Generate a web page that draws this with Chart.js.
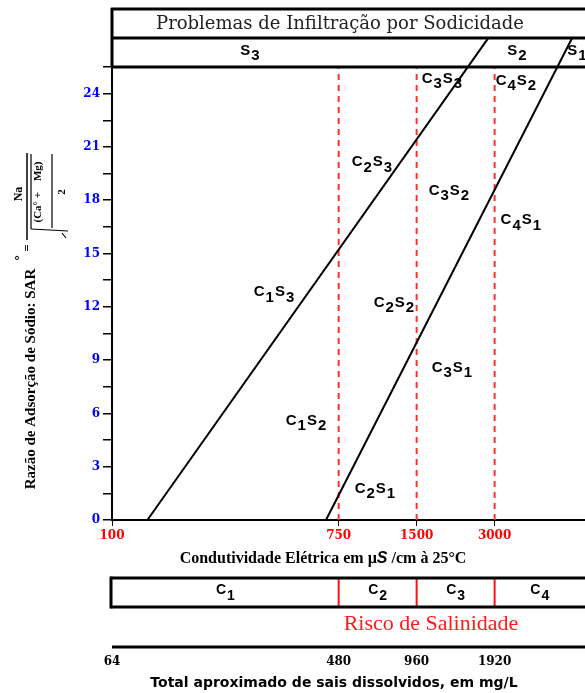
<!DOCTYPE html>
<html>
<head>
<meta charset="utf-8">
<script src="https://cdn.jsdelivr.net/npm/chart.js@4"></script>
<style>
  html, body { margin: 0; padding: 0; background: #fff; }
</style>
</head>
<body>
<canvas id="sarChart" width="585" height="693"></canvas>
<script>
// EC axis (µS/cm at 25°C) and matching TDS labels (mg/L)
const ecTicks = [100, 750, 1500, 3000];
const tdsTicks = ['64', '480', '960', '1920'];
const ecRange = [100, 6700];
const sarRange = [0, 25.5];
const sarStep = 1.5;

// boundary lines between sodicity classes (EC, SAR)
const lineS3S2 = [{ x: 137, y: 0 }, { x: 2826, y: 27.1 }];
const lineS2S1 = [{ x: 670, y: 0 }, { x: 5963, y: 27.1 }];

// salinity class limits
const classLimits = [750, 1500, 3000];
const salinityClasses = ['C1', 'C2', 'C3', 'C4'];

// sodicity band labels
const sodicityClasses = ['S3', 'S2', 'S1'];
const sodicityEC = [341, 3656, 6233];

// zone labels inside the plot
const zoneNames = ['C1S3', 'C2S3', 'C3S3', 'C4S2', 'C1S2', 'C2S2', 'C3S2', 'C4S1', 'C2S1', 'C3S1'];
const zoneEC = [422, 1008, 1878, 3625, 561, 1226, 1998, 3789, 1035, 2052];
const zoneSAR = [12.7, 20.0, 24.7, 24.6, 5.45, 12.1, 18.4, 16.75, 1.63, 8.43];

function subText(ctx, label, cx, cy, size, gap) {
  const parts = label.match(/[A-Z]\d/g);
  ctx.font = 'bold ' + size + 'px "Liberation Sans", Arial, sans-serif';
  let w = 0;
  parts.forEach(p => { w += ctx.measureText(p[0]).width + 1 + ctx.measureText(p[1]).width + gap; });
  w -= gap;
  let px = cx - w / 2;
  ctx.textAlign = 'left';
  ctx.textBaseline = 'middle';
  parts.forEach(p => {
    ctx.fillText(p[0], px, cy - size * 0.17);
    px += ctx.measureText(p[0]).width + 1;
    ctx.fillText(p[1], px, cy + size * 0.2);
    px += ctx.measureText(p[1]).width + gap;
  });
}

function rotText(ctx, text, x, y, font) {
  ctx.save();
  ctx.translate(x, y);
  ctx.rotate(-Math.PI / 2);
  ctx.font = font;
  ctx.textAlign = 'center';
  ctx.textBaseline = 'middle';
  ctx.fillText(text, 0, 0);
  ctx.restore();
}

function line(ctx, x1, y1, x2, y2, w, color) {
  ctx.beginPath();
  ctx.lineWidth = w;
  ctx.strokeStyle = color;
  ctx.moveTo(x1, y1);
  ctx.lineTo(x2, y2);
  ctx.stroke();
}

const overlay = {
  id: 'overlay',
  afterDatasetsDraw(chart) {
    const { ctx, chartArea: a, scales: { x, y } } = chart;
    const right = chart.width;
    ctx.save();

    // title box + S band
    line(ctx, a.left - 1, 9, right, 9, 3, '#000');
    line(ctx, a.left - 1, 38, right, 38, 3, '#000');
    line(ctx, a.left - 1, a.top, right, a.top, 3, '#000');
    line(ctx, a.left, 8, a.left, a.top, 3, '#000');
    ctx.fillStyle = '#222';
    ctx.font = '18px "DejaVu Serif", serif';
    ctx.textAlign = 'center';
    ctx.textBaseline = 'middle';
    ctx.fillText('Problemas de Infiltração por Sodicidade', 340, 24);
    ctx.fillStyle = '#000';
    sodicityClasses.forEach((s, i) => subText(ctx, s, x.getPixelForValue(sodicityEC[i]), 53, 15, 0));

    // zone labels
    zoneNames.forEach((n, i) => subText(ctx, n, x.getPixelForValue(zoneEC[i]), y.getPixelForValue(zoneSAR[i]), 15, 1));

    // x axis title
    ctx.textBaseline = 'middle';
    ctx.textAlign = 'left';
    const t1 = 'Condutividade Elétrica em µ', t2 = 'S', t3 = ' /cm à 25°C';
    const f1 = 'bold 16px "Liberation Serif", serif', f2 = 'italic bold 16px "Liberation Sans", sans-serif';
    ctx.font = f1; const w1 = ctx.measureText(t1).width, w3 = ctx.measureText(t3).width;
    ctx.font = f2; const w2 = ctx.measureText(t2).width;
    let tx = 323 - (w1 + w2 + w3) / 2;
    ctx.font = f1; ctx.fillText(t1, tx, 559); tx += w1;
    ctx.font = f2; ctx.fillText(t2, tx, 559); tx += w2;
    ctx.font = f1; ctx.fillText(t3, tx, 559);

    // salinity band
    const bTop = 578, bBot = 607;
    const edges = [ecRange[0]].concat(classLimits, [ecRange[1]]).map(v => x.getPixelForValue(v));
    classLimits.forEach(v => {
      const px = x.getPixelForValue(v);
      line(ctx, px, bTop, px, bBot, 2, '#ff1010');
    });
    line(ctx, a.left - 1, bTop, right, bTop, 3, '#000');
    line(ctx, a.left - 1, bBot, right, bBot, 3, '#000');
    line(ctx, a.left - 1, bTop - 1.5, a.left - 1, bBot + 1.5, 3, '#000');
    ctx.fillStyle = '#000';
    salinityClasses.forEach((c, i) => subText(ctx, c, (edges[i] + edges[i + 1]) / 2, 593, 14, 0));

    ctx.fillStyle = '#ff1a1a';
    ctx.font = '22px "Liberation Serif", serif';
    ctx.textAlign = 'center';
    ctx.fillText('Risco de Salinidade', 431, 624);

    // TDS axis
    line(ctx, a.left, 647, right, 647, 3, '#000');
    ctx.fillStyle = '#000';
    ctx.font = 'bold 12px "DejaVu Serif", serif';
    ecTicks.forEach((v, i) => ctx.fillText(tdsTicks[i], x.getPixelForValue(v), 662));
    ctx.font = 'bold 14px "DejaVu Sans", sans-serif';
    ctx.fillText('Total aproximado de sais dissolvidos, em mg/L', 334, 683);

    // y axis title with SAR formula
    ctx.fillStyle = '#000';
    rotText(ctx, 'Razão de Adsorção de Sódio: SAR', 31, 379, 'bold 15px "Liberation Serif", serif');
    rotText(ctx, '°', 20, 258, 'bold 13px "Liberation Sans", sans-serif');
    rotText(ctx, '=', 28, 248, 'bold 13px "Liberation Serif", serif');
    rotText(ctx, 'Na', 19, 194, 'bold 12px "Liberation Serif", serif');
    line(ctx, 27, 153, 27, 240, 1.5, '#000');
    line(ctx, 31, 154, 31, 229, 1.2, '#000');
    line(ctx, 31, 229, 68, 231, 1.2, '#000');
    line(ctx, 62, 233, 66, 238, 1.2, '#000');
    rotText(ctx, '(Ca° +    Mg)', 38, 192, 'bold 11px "Liberation Serif", serif');
    line(ctx, 52, 154, 52, 228, 1.2, '#000');
    rotText(ctx, '2', 62, 192, 'bold 11px "Liberation Serif", serif');

    ctx.restore();
  }
};

const datasets = [
  { data: lineS3S2, borderColor: '#000', borderWidth: 2, clip: false },
  { data: lineS2S1, borderColor: '#000', borderWidth: 2, clip: false }
].concat(classLimits.map(v => ({
  data: [{ x: v, y: sarRange[0] }, { x: v, y: sarRange[1] }],
  borderColor: '#ff3030',
  borderWidth: 2,
  borderDash: [6, 5]
})));
datasets.forEach(d => { d.showLine = true; d.pointRadius = 0; d.fill = false; });

const tickFont = { family: '"DejaVu Serif", serif', weight: 'bold', size: 12 };

new Chart(document.getElementById('sarChart'), {
  type: 'scatter',
  data: { datasets },
  options: {
    responsive: false,
    animation: false,
    devicePixelRatio: 1,
    layout: { padding: { top: 67, right: 0, bottom: 0, left: 0 } },
    plugins: { legend: { display: false }, tooltip: { enabled: false } },
    scales: {
      x: {
        type: 'logarithmic',
        min: ecRange[0],
        max: ecRange[1],
        afterBuildTicks: (s) => { s.ticks = ecTicks.map(v => ({ value: v })); },
        afterFit: (s) => { s.height = 173; },
        grid: { drawOnChartArea: false, tickLength: 6, color: '#000', lineWidth: 1 },
        border: { color: '#000', width: 2 },
        ticks: {
          autoSkip: false,
          maxRotation: 0,
          padding: 3,
          color: '#ff0000',
          font: tickFont,
          callback: (v) => String(v)
        }
      },
      y: {
        min: sarRange[0],
        max: sarRange[1],
        afterFit: (s) => { s.width = 112; },
        grid: { drawOnChartArea: false, tickLength: 9, color: '#000', lineWidth: 1.5 },
        border: { color: '#000', width: 2 },
        ticks: {
          stepSize: sarStep,
          maxTicksLimit: 100,
          autoSkip: false,
          padding: 3,
          color: '#0000ff',
          font: tickFont,
          callback: (v) => (Math.abs(v % 3) < 1e-6 ? String(v) : '')
        }
      }
    }
  },
  plugins: [overlay]
});
</script>
</body>
</html>
